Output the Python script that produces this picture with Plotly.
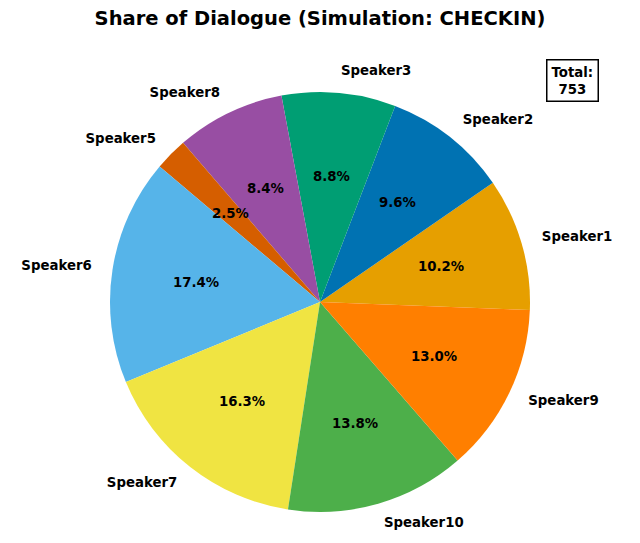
import math
import plotly.graph_objects as go

speakers = ["Speaker1", "Speaker2", "Speaker3", "Speaker8", "Speaker5",
            "Speaker6", "Speaker7", "Speaker10", "Speaker9"]
counts = [77, 72, 66, 63, 19, 131, 123, 104, 98]
colors = ["#E69F00", "#0072B2", "#009E73", "#984EA3", "#D55E00",
          "#56B4E9", "#F0E442", "#4DAF4A", "#FF7F00"]
start_angle = -2.2  # degrees, math convention (counterclockwise from 3 o'clock)
total = sum(counts)

W, H = 640, 543
cx, cy, r = 320, 302, 210
dom_x = [(cx - r) / W, (cx + r) / W]
dom_y = [1 - (cy + r) / H, 1 - (cy - r) / H]
FS = 13.3

fig = go.Figure()
fig.add_trace(go.Pie(
    labels=speakers, values=counts, sort=False, direction="counterclockwise",
    rotation=90 - start_angle - 360 * counts[0] / total,
    marker=dict(colors=colors, line=dict(width=0)),
    textinfo="none", hoverinfo="label+percent", showlegend=False,
    domain=dict(x=dom_x, y=dom_y),
))

# label positions derived from the data (labels at 1.1 r, percentages at 0.6 r)
lx, ly, pos = [], [], []
annotations = []
cum = 0
for s, c in zip(speakers, counts):
    mid = math.radians(start_angle + 360 * (cum + c / 2) / total)
    cum += c
    lx.append(1.1 * math.cos(mid))
    ly.append(1.1 * math.sin(mid))
    pos.append("middle right" if math.cos(mid) >= 0 else "middle left")
    annotations.append(dict(
        x=0.6 * math.cos(mid), y=0.6 * math.sin(mid), xref="x", yref="y",
        text=f"<b>{100 * c / total:.1f}%</b>", showarrow=False,
        xanchor="center", yanchor="middle",
        font=dict(family="DejaVu Sans", size=FS, color="black"),
    ))

fig.add_trace(go.Scatter(
    x=lx, y=ly, mode="text", text=[f"<b>{s}</b>" for s in speakers],
    textposition=pos, cliponaxis=False, hoverinfo="skip", showlegend=False,
    textfont=dict(family="DejaVu Sans", size=FS, color="black"),
))

annotations.append(dict(
    text="<b>Total:<br>753</b>", xref="paper", yref="paper",
    x=572 / W, y=1 - 80 / H, xanchor="center", yanchor="middle",
    showarrow=False, bordercolor="black", borderwidth=1.5, borderpad=4,
    bgcolor="white", font=dict(size=FS, family="DejaVu Sans", color="black"),
))

fig.update_layout(
    width=W, height=H, margin=dict(l=0, r=0, t=0, b=0),
    paper_bgcolor="white", plot_bgcolor="rgba(0,0,0,0)",
    font=dict(family="DejaVu Sans", color="black"),
    title=dict(text="<b>Share of Dialogue (Simulation: CHECKIN)</b>",
               x=0.5, xanchor="center", y=1 - 18 / H, yanchor="middle",
               font=dict(size=19.5, family="DejaVu Sans", color="black")),
    xaxis=dict(domain=[0, 1], range=[-cx / r, (W - cx) / r],
               visible=False, fixedrange=True),
    yaxis=dict(domain=[0, 1], range=[-(H - cy) / r, cy / r],
               visible=False, fixedrange=True),
    annotations=annotations,
)

fig.write_html("out.html", config={"displayModeBar": False},
               post_script="document.body.style.margin='0';")
